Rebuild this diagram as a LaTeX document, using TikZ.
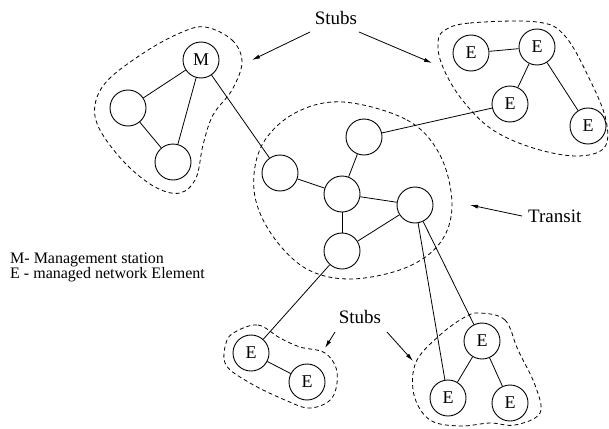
\documentclass[tikz,border=0pt]{standalone}
\usepackage{fontspec}
\setmainfont{Liberation Serif}
\usetikzlibrary{arrows.meta}
\begin{document}
\begin{tikzpicture}[x=1pt,y=-1pt,
  netnode/.style={circle,draw,minimum size=36pt,inner sep=0pt,line width=0.9pt,
    font=\fontsize{18}{18}\selectfont},
  link/.style={line width=0.8pt},
  region/.style={dashed,dash pattern=on 4pt off 3pt,line width=0.8pt},
  pointer/.style={line width=0.8pt,-{Latex[length=8pt,width=4pt]}},
  bigtext/.style={font=\fontsize{19}{19}\selectfont,inner sep=0pt},
  legend/.style={font=\fontsize{16}{16}\selectfont,inner sep=0pt,anchor=base west}]
\useasboundingbox (0,0) rectangle (609,428);

% dashed outlines of the domains
\draw[region] plot[smooth cycle,tension=0.6] coordinates {(205,27) (232,40) (242,62) (232,90) (213,115) (203,145) (196,178) (180,193) (155,187) (125,163) (100,130) (95,105) (108,80) (145,52) (180,33)};
\draw[region] plot[smooth cycle,tension=0.6] coordinates {(445,30) (470,23) (537,22) (565,36) (590,80) (606,120) (604,148) (575,156) (530,147) (490,128) (460,97) (442,65) (438,42)};
\draw[region] plot[smooth cycle,tension=0.6] coordinates {(343,102) (407,120) (440,155) (452,205) (440,243) (405,268) (350,279) (305,268) (270,232) (254,190) (262,145) (295,113)};
\draw[region] plot[smooth cycle,tension=0.6] coordinates {(235,332) (258,325) (280,338) (300,347) (325,353) (337,372) (332,398) (310,408) (285,400) (250,383) (226,365) (226,343)};
\draw[region] plot[smooth cycle,tension=0.6] coordinates {(480,313) (505,320) (518,350) (535,385) (540,413) (515,425) (490,423) (460,426) (430,420) (414,395) (416,362) (440,335) (465,317)};

% stub with the management station
\node[netnode] (m)  at (201,60)  {M};
\node[netnode] (l1) at (128,108) {};
\node[netnode] (l2) at (173,162) {};

% transit domain
\node[netnode] (t1) at (280,173) {};
\node[netnode] (t2) at (364,137) {};
\node[netnode] (t3) at (342,194) {};
\node[netnode] (t4) at (415,205) {};
\node[netnode] (t5) at (342,251) {};

% upper right stub
\node[netnode] (e1) at (471,53)  {E};
\node[netnode] (e2) at (537,47)  {E};
\node[netnode] (e3) at (510,104) {E};
\node[netnode] (e4) at (588,126) {E};

% lower left stub
\node[netnode] (e5) at (251,353) {E};
\node[netnode] (e6) at (307,382) {E};

% lower right stub
\node[netnode] (e7) at (482,341) {E};
\node[netnode] (e8) at (448,398) {E};
\node[netnode] (e9) at (510,403) {E};

% links
\draw[link] (m) -- (l1);
\draw[link] (m) -- (l2);
\draw[link] (l1) -- (l2);
\draw[link] (m) -- (t1);
\draw[link] (t1) -- (t3);
\draw[link] (t2) -- (t3);
\draw[link] (t3) -- (t4);
\draw[link] (t3) -- (t5);
\draw[link] (t5) -- (t4);
\draw[link] (t2) -- (e3);
\draw[link] (e1) -- (e2);
\draw[link] (e2) -- (e3);
\draw[link] (e2) -- (e4);
\draw[link] (t5) -- (e5);
\draw[link] (e5) -- (e6);
\draw[link] (t4) -- (e7);
\draw[link] (t4) -- (e8);
\draw[link] (e7) -- (e8);
\draw[link] (e7) -- (e9);

% labels and pointers
\node[bigtext,anchor=base] (stubtop) at (336,25) {Stubs};
\coordinate (sa1) at (310,32);
\coordinate (sa2) at (359,32);
\coordinate (sa1t) at (252,60);
\coordinate (sa2t) at (432,63);
\draw[pointer] (sa1) -- (sa1t);
\draw[pointer] (sa2) -- (sa2t);

\node[bigtext,anchor=base west] (transit) at (528,222) {Transit};
\coordinate (ta) at (522,216);
\coordinate (tat) at (470,205);
\draw[pointer] (ta) -- (tat);

\node[bigtext,anchor=base] (stubbot) at (360,323) {Stubs};
\coordinate (sb1) at (335,332);
\coordinate (sb2) at (387,332);
\coordinate (sb1t) at (325,348);
\coordinate (sb2t) at (413,361);
\draw[pointer] (sb1) -- (sb1t);
\draw[pointer] (sb2) -- (sb2t);

% legend
\node[legend] (leg1) at (10,263.5) {M- Management station};
\node[legend] (leg2) at (10,278.5) {E - managed network Element};
\end{tikzpicture}
\end{document}
